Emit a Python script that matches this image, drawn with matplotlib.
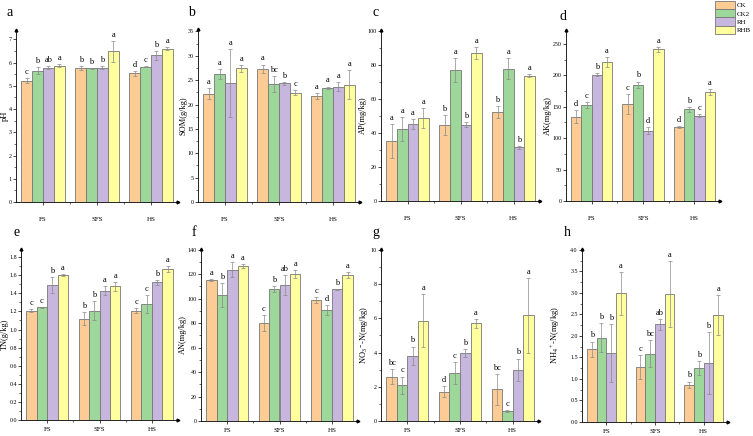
import numpy as np
import matplotlib
matplotlib.use("Agg")
import matplotlib.pyplot as plt
from matplotlib.patches import Patch

plt.rcParams["font.family"] = ["Liberation Serif", "DejaVu Serif"]
plt.rcParams["mathtext.fontset"] = "custom"
plt.rcParams["mathtext.rm"] = "Liberation Serif"
plt.rcParams["mathtext.it"] = "Liberation Serif:italic"

# Data
sites = ["FS", "SFS", "HS"]
treatments = ["CK", "CK2", "RH", "RHB"]
colors = ["#FDCB94", "#9DD89A", "#C7B6DE", "#FFFF9E"]

# each: values[treatment][site], errors, letters
ph = [[5.22, 5.75, 5.54], [5.65, 5.75, 5.82], [5.78, 5.78, 6.31], [5.87, 6.48, 6.60]]
ph_err = [[0.10, 0.08, 0.10], [0.15, 0.02, 0.03], [0.05, 0.06, 0.20], [0.06, 0.45, 0.05]]
ph_sig = [["c", "b", "d"], ["b", "b", "c"], ["ab", "b", "b"], ["a", "a", "a"]]

som = [[22.2, 27.3, 21.8], [26.2, 24.2, 23.4], [24.4, 24.4, 23.7], [27.4, 22.4, 24.1]]
som_err = [[1.1, 0.9, 0.6], [1.0, 1.6, 0.3], [7.0, 0.3, 1.0], [0.7, 0.5, 3.0]]
som_sig = [["a", "a", "a"], ["a", "bc", "a"], ["a", "b", "a"], ["a", "c", "a"]]

ap = [[35.5, 44.8, 52.3], [42.5, 77.0, 77.8], [45.3, 44.7, 31.5], [48.7, 87.0, 73.7]]
ap_err = [[10.0, 6.0, 3.5], [7.0, 7.0, 6.0], [3.0, 1.5, 0.8], [6.0, 3.5, 1.0]]
ap_sig = [["a", "b", "b"], ["a", "a", "a"], ["a", "b", "b"], ["a", "a", "a"]]

ak = [[134, 154, 118], [153, 185, 146], [201, 112, 136], [221, 241, 173]]
ak_err = [[10, 16, 2], [5, 5, 4], [2, 6, 2], [8, 4, 5]]
ak_sig = [["d", "c", "d"], ["c", "b", "b"], ["b", "d", "c"], ["a", "a", "a"]]

tn = [[1.21, 1.12, 1.21], [1.245, 1.21, 1.28], [1.49, 1.43, 1.52], [1.60, 1.48, 1.67]]
tn_err = [[0.02, 0.07, 0.03], [0.005, 0.10, 0.10], [0.09, 0.05, 0.03], [0.01, 0.05, 0.03]]
tn_sig = [["c", "b", "c"], ["c", "b", "c"], ["b", "a", "b"], ["a", "a", "a"]]

an = [[115, 80, 98.5], [103, 108, 90.5], [123.5, 111, 107.5], [126.5, 120, 119]]
an_err = [[1.0, 6.5, 2.5], [10.0, 2.5, 4.0], [6.0, 8.0, 0.5], [1.5, 3.0, 2.5]]
an_sig = [["a", "c", "c"], ["b", "b", "d"], ["a", "ab", "b"], ["a", "a", "a"]]

no3 = [[2.6, 1.72, 1.85], [2.1, 2.82, 0.6], [3.8, 3.97, 3.0], [5.85, 5.7, 6.17]]
no3_err = [[0.45, 0.3, 0.9], [0.5, 0.65, 0.05], [0.55, 0.25, 0.65], [1.55, 0.25, 2.2]]
no3_sig = [["bc", "d", "bc"], ["c", "c", "c"], ["b", "b", "b"], ["a", "a", "a"]]

nh4 = [[1.69, 1.27, 0.86], [1.96, 1.59, 1.25], [1.61, 2.27, 1.38], [2.99, 2.97, 2.49]]
nh4_err = [[0.18, 0.28, 0.08], [0.33, 0.32, 0.16], [0.67, 0.13, 0.72], [0.5, 0.76, 0.46]]
nh4_sig = [["b", "c", "b"], ["b", "bc", "b"], ["b", "ab", "b"], ["a", "a", "a"]]

panels = [
    ("a", "pH", ph, ph_err, ph_sig, 7.4, np.arange(0, 8, 1), "%d"),
    ("b", "SOM(g/kg)", som, som_err, som_sig, 35.5, np.arange(0, 36, 5), "%d"),
    ("c", "AP(mg/kg)", ap, ap_err, ap_sig, 100.5, np.arange(0, 101, 20), "%d"),
    ("d", "AK(mg/kg)", ak, ak_err, ak_sig, 272, np.arange(0, 251, 50), "%d"),
    ("e", "TN(g/kg)", tn, tn_err, tn_sig, 1.89, np.arange(0, 1.81, 0.2), "%.1f"),
    ("f", "AN(mg/kg)", an, an_err, an_sig, 140.5, np.arange(0, 141, 20), "%d"),
    ("g", r"NO$_3$$^-$-N(mg/kg)", no3, no3_err, no3_sig, 10.05, np.arange(0, 11, 2), "%d"),
    ("h", r"NH$_4$$^+$-N(mg/kg)", nh4, nh4_err, nh4_sig, 4.02, np.arange(0, 4.01, 0.5), "%.1f"),
]

# axes boxes in pixels: left, right, top, bottom (from top of image)
boxes = [
    (16, 178, 30, 202), (198, 360, 29, 202), (381, 540, 30, 201), (566, 720, 30, 201),
    (21, 178, 249, 420), (201, 358, 249, 421), (381, 539, 249, 421), (582, 728, 249, 422),
]
letter_pos = [(10, 12), (191, 12), (376, 12), (563, 16), (17, 232), (194, 232), (376, 232), (567, 232)]
ylabel_x = [5, 184, 363, 548, 5, 183, 364, 556]

W, H = 753, 436
fig = plt.figure(figsize=(W / 100, H / 100), dpi=100)

x = np.arange(len(sites))
width = 0.2
for k, ((letter, ylabel, vals, errs, sigs, ytop, yticks, fmt), (l, r, t, b), (lx, ly), yx) in enumerate(
    zip(panels, boxes, letter_pos, ylabel_x)
):
    ax = fig.add_axes([l / W, 1 - b / H, (r - l) / W, (b - t) / H])
    for i in range(4):
        pos = x + (i - 1.5) * width
        ax.bar(pos, vals[i], width, color=colors[i], edgecolor="#777777", linewidth=0.6,
               label=treatments[i], zorder=2)
        ax.errorbar(pos, vals[i], yerr=errs[i], fmt="none", ecolor="#8a8a8a",
                    elinewidth=0.5, capsize=1.2, capthick=0.5, zorder=3)
        for xp, v, e, s in zip(pos, vals[i], errs[i], sigs[i]):
            ax.text(xp, v + e + ytop * 0.012, s, ha="center", va="bottom", fontsize=6)
    ax.set_xlim(-0.5, 2.5)
    ax.set_ylim(0, ytop)
    ax.set_xticks(x)
    ax.set_xticklabels(sites, fontsize=5)
    ax.set_xticks([0.5, 1.5], minor=True)
    ax.set_yticks(yticks)
    ax.set_yticklabels([fmt % v for v in yticks], fontsize=4.3)
    ax.set_yticks(yticks[:-1] + (yticks[1] - yticks[0]) / 2, minor=True)
    ax.tick_params(axis="both", which="major", length=2, width=0.5, pad=1)
    ax.tick_params(axis="x", which="major", pad=9 if k < 4 else 3)
    ax.tick_params(axis="both", which="minor", length=1.2, width=0.4)
    ax.set_ylabel(ylabel, fontsize=6, va="center")
    ax.yaxis.set_label_coords((yx - l) / (r - l), 0.5)
    for side in ["top", "right"]:
        ax.spines[side].set_visible(False)
    for side in ["left", "bottom"]:
        ax.spines[side].set_linewidth(0.6)
    # Origin style arrow heads
    ax.plot(1, 0, ">k", markersize=2, transform=ax.transAxes, clip_on=False)
    ax.plot(0, 1, "^k", markersize=2, transform=ax.transAxes, clip_on=False)
    fig.text(lx / W, 1 - ly / H, letter, fontsize=10, ha="center", va="center")

handles = [Patch(facecolor=c, edgecolor="#777777", linewidth=0.6) for c in colors]
fig.legend(handles, treatments, loc="upper left", bbox_to_anchor=(715 / W, 1 - 1 / H),
           frameon=False, fontsize=5, handlelength=2.9, handleheight=1.45,
           labelspacing=0.0, handletextpad=0.2, borderpad=0, borderaxespad=0)

fig.savefig("out.png", dpi=100)
